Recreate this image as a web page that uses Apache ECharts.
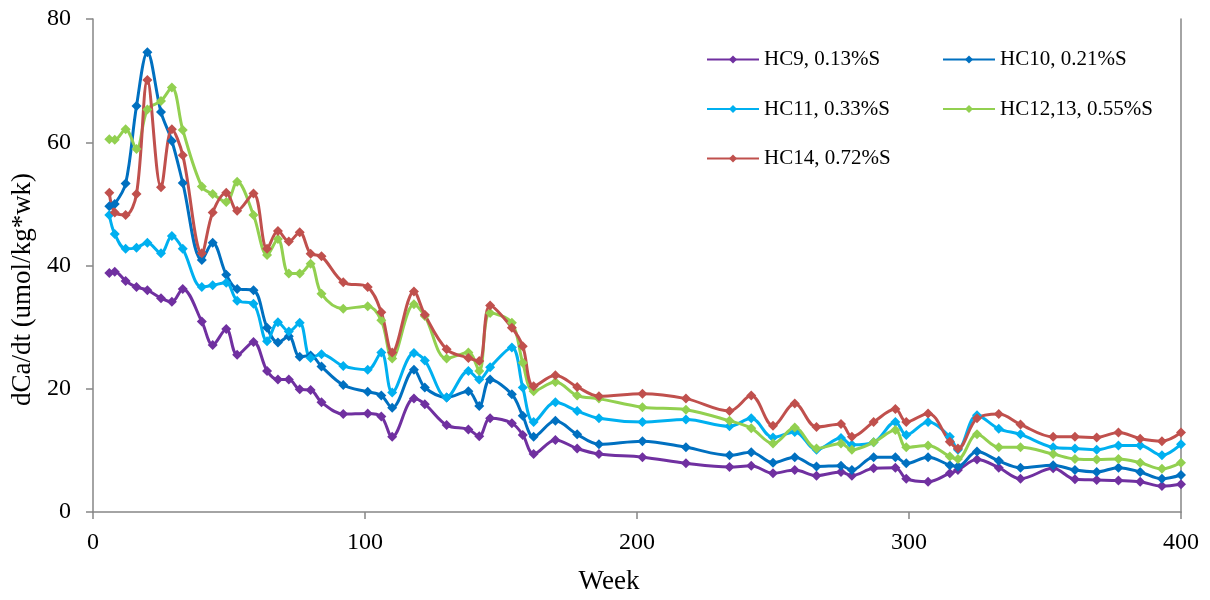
<!DOCTYPE html>
<html>
<head>
<meta charset="utf-8">
<script src="https://cdn.jsdelivr.net/npm/echarts@6/dist/echarts.min.js"></script>
<style>
  html, body { margin: 0; padding: 0; background: #fff; }
  #chart { width: 1210px; height: 600px; }
</style>
</head>
<body>
<div id="chart"></div>
<script>
// Sampling weeks shared by all columns
const weeks = [6, 8, 12, 16, 20, 25, 29, 33, 40, 44, 49, 53, 59, 64, 68, 72, 76, 80, 84, 92,
  101, 106, 110, 118, 122, 130, 138, 142, 146, 154, 158, 162, 170, 178, 186, 202, 218, 234, 242, 250,
  258, 266, 275, 279, 287, 295, 299, 307, 315, 318, 325, 333, 341, 353, 361, 369, 377, 385, 393, 400];

// Calcium release rate, umol/kg*wk
const hc9 = [38.8, 39.0, 37.5, 36.5, 36.0, 34.7, 34.1, 36.2, 30.9, 27.1, 29.7, 25.5, 27.6, 22.9, 21.5, 21.5, 19.9, 19.8, 17.8, 15.9,
  16.0, 15.5, 12.2, 18.4, 17.5, 14.1, 13.4, 12.3, 15.2, 14.4, 12.5, 9.4, 11.7, 10.3, 9.4, 8.9, 7.9, 7.3, 7.5, 6.3,
  6.8, 5.9, 6.5, 5.9, 7.1, 7.2, 5.4, 4.9, 6.3, 6.8, 8.5, 7.2, 5.4, 7.1, 5.3, 5.2, 5.1, 4.9, 4.2, 4.5];
const hc10 = [49.6, 50.0, 53.3, 65.9, 74.6, 64.9, 60.2, 53.4, 40.9, 43.7, 38.5, 36.2, 36.0, 29.9, 27.5, 28.5, 25.2, 25.4, 23.6, 20.6,
  19.5, 18.9, 16.9, 23.1, 20.2, 18.6, 19.6, 17.2, 21.5, 19.1, 15.6, 12.2, 14.8, 12.6, 11.0, 11.5, 10.5, 9.2, 9.7, 8.0,
  8.9, 7.4, 7.5, 6.8, 8.9, 8.9, 7.9, 8.9, 7.6, 7.4, 9.8, 8.3, 7.2, 7.6, 6.8, 6.5, 7.2, 6.5, 5.4, 6.0];
const hc11 = [48.2, 45.1, 42.7, 42.9, 43.7, 42.0, 44.8, 42.7, 36.5, 36.8, 37.2, 34.3, 33.8, 27.7, 30.8, 29.3, 30.7, 25.0, 25.6, 23.7,
  23.1, 25.9, 19.4, 25.8, 24.6, 18.6, 22.9, 21.5, 23.5, 26.7, 20.2, 14.6, 17.8, 16.4, 15.2, 14.6, 15.0, 13.9, 15.2, 12.1,
  13.0, 10.1, 12.0, 10.9, 11.3, 14.6, 12.5, 14.6, 12.2, 10.1, 15.7, 13.5, 12.6, 10.5, 10.3, 10.1, 10.8, 10.8, 9.2, 11.0];
const hc1213 = [60.5, 60.4, 62.1, 58.9, 65.3, 66.7, 68.9, 62.0, 52.8, 51.6, 50.3, 53.6, 48.2, 41.7, 44.3, 38.7, 38.7, 40.3, 35.4, 33.0,
  33.4, 31.1, 24.9, 33.7, 31.8, 24.9, 25.9, 22.9, 32.3, 30.7, 24.2, 19.6, 21.1, 18.9, 18.4, 17.0, 16.6, 14.8, 13.6, 11.1,
  13.7, 10.3, 11.1, 10.1, 11.3, 13.3, 10.5, 10.8, 9.0, 8.6, 12.6, 10.5, 10.5, 9.4, 8.6, 8.5, 8.6, 8.0, 7.0, 8.0];
const hc14 = [51.8, 48.6, 48.2, 51.6, 70.1, 52.7, 62.1, 57.9, 42.0, 48.6, 51.8, 48.9, 51.7, 42.7, 45.6, 43.9, 45.4, 41.9, 41.5, 37.3,
  36.5, 32.4, 25.9, 35.8, 32.0, 26.4, 25.0, 24.5, 33.5, 29.9, 26.9, 20.4, 22.2, 20.3, 18.8, 19.2, 18.4, 16.4, 18.9, 14.0,
  17.6, 13.8, 14.3, 12.2, 14.6, 16.7, 14.6, 16.0, 11.4, 10.3, 15.2, 15.9, 14.2, 12.2, 12.2, 12.1, 12.9, 11.9, 11.5, 12.9];

const seriesNames = ['HC9, 0.13%S', 'HC10, 0.21%S', 'HC11, 0.33%S', 'HC12,13, 0.55%S', 'HC14, 0.72%S'];
const seriesValues = [hc9, hc10, hc11, hc1213, hc14];
const seriesColors = ['#7030A0', '#0070C0', '#00B0F0', '#92D050', '#C0504D'];

const FONT = '"Liberation Serif", "Times New Roman", serif';
const AXIS_GREY = '#868686';

const pairs = vals => weeks.map((w, i) => [w, vals[i]]);

const series = seriesNames.map((name, i) => ({
  name: name,
  type: 'line',
  data: pairs(seriesValues[i]),
  smooth: 0.35,
  symbol: 'diamond',
  symbolSize: 10,
  showAllSymbol: true,
  clip: true,
  lineStyle: { width: 3, color: seriesColors[i] },
  itemStyle: { color: seriesColors[i] },
  emphasis: { disabled: true }
}));

const legendBase = {
  orient: 'vertical',
  padding: 0,
  itemWidth: 52,
  itemHeight: 10,
  itemGap: 28.5,
  textStyle: { fontFamily: FONT, fontSize: 21, color: '#000' },
  selectedMode: false
};

const chart = echarts.init(document.getElementById('chart'), null, { renderer: 'canvas' });
chart.setOption({
  animation: false,
  backgroundColor: '#fff',
  color: seriesColors,
  grid: { left: 93, right: 29, top: 19, bottom: 87, containLabel: false },
  legend: [
    Object.assign({}, legendBase, { left: 706, top: 49, data: ['HC9, 0.13%S', 'HC11, 0.33%S', 'HC14, 0.72%S'] }),
    Object.assign({}, legendBase, { left: 942, top: 49, data: ['HC10, 0.21%S', 'HC12,13, 0.55%S'] })
  ],
  xAxis: {
    type: 'value',
    min: 0,
    max: 400,
    interval: 100,
    name: 'Week',
    nameLocation: 'middle',
    nameGap: 56,
    nameTextStyle: { fontFamily: FONT, fontSize: 27, color: '#000', padding: [0, 56, 0, 0] },
    axisLine: { show: true, lineStyle: { color: AXIS_GREY, width: 1.5 } },
    axisTick: { show: true, inside: false, length: 7, lineStyle: { color: AXIS_GREY, width: 1.5 } },
    axisLabel: { fontFamily: FONT, fontSize: 24, color: '#000', margin: 19 },
    splitLine: { show: false }
  },
  yAxis: [
    {
      type: 'value',
      min: 0,
      max: 80,
      interval: 20,
      name: 'dCa/dt (umol/kg*wk)',
      nameLocation: 'middle',
      nameGap: 50,
      nameTextStyle: { fontFamily: FONT, fontSize: 27, color: '#000', padding: [0, 48, 0, 0] },
      axisLine: { show: true, lineStyle: { color: AXIS_GREY, width: 1.5 } },
      axisTick: { show: true, inside: false, length: 7, lineStyle: { color: AXIS_GREY, width: 1.5 } },
      axisLabel: { fontFamily: FONT, fontSize: 24, color: '#000', margin: 22 },
      splitLine: { show: false }
    },
    {
      type: 'value',
      position: 'right',
      min: 0,
      max: 80,
      interval: 20,
      axisLine: { show: true, lineStyle: { color: AXIS_GREY, width: 1.5 } },
      axisTick: { show: false },
      axisLabel: { show: false },
      splitLine: { show: false }
    }
  ],
  series: series
});
</script>
</body>
</html>
